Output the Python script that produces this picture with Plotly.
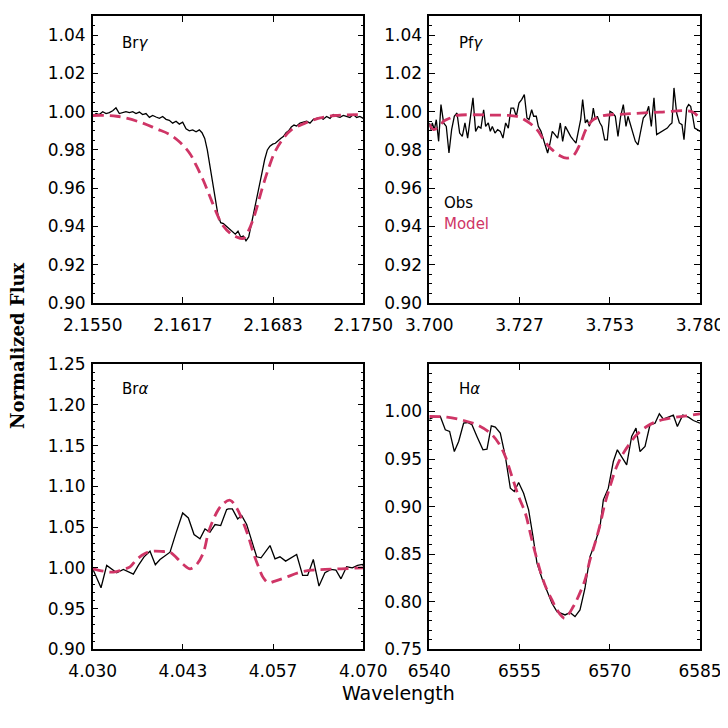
import plotly.graph_objects as go

# ---------------- DATA ----------------
# Br gamma
brg_obs_w = [2.15500, 2.15525, 2.15549, 2.15574, 2.15599, 2.15623, 2.15648, 2.15672, 2.15697, 2.15722,
             2.15746, 2.15771, 2.15796, 2.15820, 2.15845, 2.15869, 2.15894, 2.15919, 2.15943, 2.15968,
             2.15993, 2.16017, 2.16042, 2.16066, 2.16091, 2.16116, 2.16140, 2.16165, 2.16190, 2.16214,
             2.16239, 2.16264, 2.16288, 2.16308, 2.16328, 2.16347, 2.16367, 2.16387, 2.16406, 2.16426,
             2.16446, 2.16466, 2.16490, 2.16515, 2.16534, 2.16554, 2.16574, 2.16594, 2.16613, 2.16633,
             2.16653, 2.16672, 2.16692, 2.16712, 2.16732, 2.16751, 2.16771, 2.16791, 2.16810, 2.16830,
             2.16850, 2.16869, 2.16889, 2.16909, 2.16929, 2.16948, 2.16968, 2.16988, 2.17007, 2.17032,
             2.17057, 2.17081, 2.17106, 2.17131, 2.17155, 2.17180, 2.17204, 2.17229, 2.17254, 2.17278,
             2.17303, 2.17328, 2.17352, 2.17377, 2.17401, 2.17426, 2.17451, 2.17475, 2.17500]
brg_obs_f = [0.9975, 0.9990, 0.9985, 1.0000, 0.9990, 0.9995, 1.0005, 1.0020, 0.9990, 0.9995,
             1.0000, 0.9995, 1.0000, 0.9990, 0.9998, 0.9985, 0.9990, 0.9970, 0.9980, 0.9972,
             0.9965, 0.9975, 0.9960, 0.9955, 0.9940, 0.9950, 0.9935, 0.9945, 0.9910, 0.9900,
             0.9905, 0.9895, 0.9905, 0.9890, 0.9860, 0.9800, 0.9710, 0.9620, 0.9530, 0.9460,
             0.9420, 0.9415, 0.9400, 0.9385, 0.9370, 0.9360, 0.9375, 0.9345, 0.9350, 0.9325,
             0.9345, 0.9410, 0.9460, 0.9540, 0.9610, 0.9680, 0.9750, 0.9800, 0.9820, 0.9830,
             0.9835, 0.9850, 0.9860, 0.9870, 0.9890, 0.9900, 0.9920, 0.9930, 0.9925, 0.9940,
             0.9945, 0.9950, 0.9940, 0.9960, 0.9965, 0.9970, 0.9960, 0.9975, 0.9965, 0.9985,
             0.9975, 0.9970, 0.9980, 0.9975, 0.9970, 0.9985, 0.9970, 0.9975, 0.9965]
brg_mod_w = [2.15500, 2.15677, 2.15850, 2.15973, 2.16071, 2.16145, 2.16219, 2.16268, 2.16318, 2.16367,
             2.16416, 2.16453, 2.16515, 2.16564, 2.16613, 2.16650, 2.16699, 2.16749, 2.16798, 2.16847,
             2.16909, 2.16970, 2.17069, 2.17167, 2.17291, 2.17500]
brg_mod_f = [0.9980, 0.9976, 0.9945, 0.9910, 0.9880, 0.9840, 0.9780, 0.9715, 0.9640, 0.9555,
             0.9470, 0.9415, 0.9365, 0.9345, 0.9338, 0.9375, 0.9465, 0.9590, 0.9700, 0.9790,
             0.9860, 0.9906, 0.9940, 0.9965, 0.9980, 0.9985]

# Pf gamma
pfg_obs_w = [3.70000, 3.70049, 3.70089, 3.70148, 3.70207, 3.70276, 3.70345, 3.70424, 3.70502, 3.70581,
             3.70660, 3.70739, 3.70818, 3.70897, 3.70975, 3.71054, 3.71133, 3.71212, 3.71291, 3.71369,
             3.71448, 3.71527, 3.71606, 3.71665, 3.71744, 3.71803, 3.71862, 3.71941, 3.72020, 3.72098,
             3.72177, 3.72256, 3.72335, 3.72414, 3.72493, 3.72571, 3.72650, 3.72729, 3.72808, 3.72887,
             3.72946, 3.73025, 3.73084, 3.73162, 3.73222, 3.73301, 3.73379, 3.73438, 3.73497, 3.73557,
             3.73635, 3.73714, 3.73793, 3.73872, 3.73941, 3.74020, 3.74098, 3.74177, 3.74256, 3.74335,
             3.74414, 3.74473, 3.74532, 3.74611, 3.74670, 3.74729, 3.74808, 3.74847, 3.74906, 3.74965,
             3.75044, 3.75103, 3.75182, 3.75261, 3.75340, 3.75418, 3.75497, 3.75576, 3.75655, 3.75734,
             3.75813, 3.75872, 3.75931, 3.76010, 3.76089, 3.76167, 3.76246, 3.76325, 3.76404, 3.76483,
             3.76561, 3.76640, 3.76719, 3.76798, 3.76877, 3.76956, 3.77034, 3.77113, 3.77172, 3.77231,
             3.77310, 3.77389, 3.77468, 3.77527, 3.77606, 3.77665, 3.77724, 3.77783, 3.77842, 3.77921,
             3.78000]
pfg_obs_f = [0.9941, 0.9906, 0.9941, 0.9906, 0.9958, 0.9845, 1.0037, 0.9941, 0.9923, 0.9784,
             0.9906, 0.9976, 0.9993, 0.9888, 0.9871, 0.9941, 0.9862, 0.9976, 1.0072, 0.9897,
             0.9923, 0.9914, 1.0010, 0.9923, 0.9941, 0.9897, 0.9923, 0.9888, 0.9906, 0.9897,
             0.9862, 0.9941, 0.9914, 1.0019, 1.0019, 0.9976, 1.0045, 1.0063, 1.0089, 0.9967,
             0.9958, 1.0010, 0.9976, 0.9976, 0.9923, 0.9897, 0.9853, 0.9818, 0.9784, 0.9827,
             0.9897, 0.9880, 0.9862, 0.9941, 0.9845, 0.9923, 0.9897, 0.9871, 0.9853, 0.9836,
             0.9906, 0.9958, 1.0063, 0.9941, 0.9958, 0.9923, 0.9967, 1.0019, 0.9958, 0.9976,
             0.9941, 0.9923, 0.9853, 0.9853, 1.0002, 0.9993, 0.9976, 0.9871, 0.9976, 1.0037,
             0.9923, 0.9976, 0.9941, 0.9888, 0.9845, 0.9827, 0.9906, 0.9967, 0.9984, 1.0028,
             0.9923, 1.0072, 0.9880, 0.9888, 0.9897, 0.9906, 0.9914, 0.9932, 0.9941, 1.0124,
             0.9993, 0.9941, 0.9932, 0.9853, 1.0019, 1.0037, 1.0028, 0.9976, 0.9914, 0.9906,
             0.9897]
pfg_mod_w = [3.70000, 3.70128, 3.70325, 3.70424, 3.70621, 3.70818, 3.71803, 3.72591, 3.72887, 3.73182,
             3.73379, 3.73576, 3.73862, 3.74059, 3.74256, 3.74453, 3.74650, 3.74847, 3.75143, 3.75833,
             3.76818, 3.77783, 3.78000]
pfg_mod_f = [0.9935, 0.9906, 0.9930, 0.9950, 0.9967, 0.9980, 0.9982, 0.9975, 0.9950, 0.9906,
             0.9853, 0.9810, 0.9770, 0.9757, 0.9770, 0.9830, 0.9914, 0.9958, 0.9979, 0.9988,
             0.9998, 0.9998, 0.9958]

# Br alpha
bra_obs_w = [4.03000, 4.03049, 4.03123, 4.03207, 4.03281, 4.03355, 4.03453, 4.03542, 4.03601, 4.03675,
             4.03759, 4.03847, 4.03926, 4.03995, 4.04084, 4.04143, 4.04232, 4.04330, 4.04414, 4.04498,
             4.04586, 4.04660, 4.04734, 4.04808, 4.04892, 4.04980, 4.05005, 4.05064, 4.05143, 4.05202,
             4.05276, 4.05350, 4.05424, 4.05488, 4.05621, 4.05695, 4.05768, 4.05852, 4.05941, 4.06015,
             4.06103, 4.06177, 4.06261, 4.06345, 4.06433, 4.06522, 4.06596, 4.06670, 4.06754, 4.06837,
             4.06916, 4.06985, 4.07000]
bra_obs_f = [0.9988, 0.9898, 0.9755, 1.0029, 0.9980, 0.9939, 0.9980, 0.9947, 0.9922, 1.0029,
             1.0135, 1.0204, 1.0037, 1.0102, 1.0163, 1.0192, 1.0429, 1.0673, 1.0612, 1.0408,
             1.0355, 1.0478, 1.0437, 1.0531, 1.0518, 1.0714, 1.0722, 1.0722, 1.0600, 1.0641,
             1.0531, 1.0347, 1.0135, 1.0122, 1.0273, 1.0110, 1.0135, 1.0082, 1.0122, 1.0163,
             0.9906, 0.9906, 1.0102, 0.9776, 0.9939, 0.9980, 0.9971, 0.9865, 1.0012, 1.0000,
             1.0029, 1.0041, 1.0029]
bra_mod_w = [4.03000, 4.03158, 4.03305, 4.03453, 4.03552, 4.03650, 4.03773, 4.03897, 4.04044, 4.04143,
             4.04241, 4.04340, 4.04438, 4.04537, 4.04635, 4.04709, 4.04783, 4.04857, 4.04931, 4.05029,
             4.05128, 4.05227, 4.05300, 4.05374, 4.05448, 4.05522, 4.05596, 4.05695, 4.05842, 4.06039,
             4.06236, 4.06433, 4.06680, 4.07000]
bra_mod_f = [0.9988, 0.9959, 0.9947, 0.9980, 1.0012, 1.0102, 1.0176, 1.0204, 1.0200, 1.0192,
             1.0122, 1.0041, 0.9988, 1.0041, 1.0184, 1.0429, 1.0592, 1.0714, 1.0788, 1.0829,
             1.0735, 1.0551, 1.0388, 1.0184, 1.0020, 0.9878, 0.9816, 0.9837, 0.9878, 0.9939,
             0.9971, 0.9980, 0.9988, 1.0000]

# H alpha
ha_obs_w = [6540.00, 6540.72, 6541.83, 6542.66, 6543.38, 6544.16, 6544.88, 6545.71, 6546.37, 6547.09,
            6547.92, 6548.92, 6549.59, 6550.31, 6550.97, 6551.80, 6552.64, 6553.47, 6554.13, 6554.85,
            6555.68, 6556.51, 6557.24, 6557.90, 6558.73, 6559.56, 6560.39, 6561.23, 6562.06, 6562.56,
            6563.39, 6564.22, 6565.05, 6565.88, 6566.71, 6567.55, 6568.38, 6568.93, 6569.76, 6570.59,
            6571.26, 6572.14, 6572.81, 6573.64, 6574.36, 6575.03, 6575.86, 6576.69, 6577.52, 6578.24,
            6578.91, 6579.74, 6580.57, 6581.24, 6582.13, 6583.07, 6583.90, 6585.00]
ha_obs_f = [0.9919, 0.9940, 0.9947, 0.9807, 0.9790, 0.9579, 0.9684, 0.9877, 0.9884, 0.9860,
            0.9737, 0.9597, 0.9604, 0.9849, 0.9835, 0.9772, 0.9527, 0.9194, 0.9158, 0.9253,
            0.9141, 0.8966, 0.8685, 0.8405, 0.8247, 0.8124, 0.7984, 0.7896, 0.7872, 0.7861,
            0.7886, 0.7844, 0.7914, 0.8142, 0.8475, 0.8615, 0.8790, 0.9071, 0.9194, 0.9474,
            0.9597, 0.9509, 0.9439, 0.9737, 0.9825, 0.9579, 0.9632, 0.9860, 0.9877, 0.9975,
            0.9919, 0.9940, 0.9961, 0.9842, 0.9961, 0.9940, 0.9905, 0.9877]
ha_mod_w = [6540.00, 6542.94, 6545.71, 6547.92, 6550.14, 6551.53, 6552.64, 6553.74, 6554.85, 6555.96,
            6556.79, 6557.62, 6558.73, 6559.56, 6560.39, 6561.23, 6562.06, 6562.56, 6563.94, 6564.77,
            6565.88, 6566.71, 6567.55, 6568.38, 6569.21, 6570.04, 6571.15, 6572.26, 6573.37, 6574.47,
            6576.14, 6577.80, 6580.02, 6582.79, 6585.00]
ha_mod_f = [0.9947, 0.9940, 0.9905, 0.9860, 0.9772, 0.9667, 0.9527, 0.9316, 0.9106, 0.8931,
            0.8720, 0.8510, 0.8264, 0.8124, 0.8019, 0.7914, 0.7844, 0.7826, 0.7949, 0.8054,
            0.8229, 0.8440, 0.8615, 0.8808, 0.9036, 0.9211, 0.9421, 0.9562, 0.9667, 0.9755,
            0.9842, 0.9895, 0.9930, 0.9954, 0.9975]

# tick labels
brg_ticks = [2.1550, 2.161667, 2.168333, 2.1750]
brg_ticktext = ["2.1550", "2.1617", "2.1683", "2.1750"]
pfg_ticks = [3.700, 3.726667, 3.753333, 3.780]
pfg_ticktext = ["3.700", "3.727", "3.753", "3.780"]
bra_ticks = [4.030, 4.043333, 4.056667, 4.070]
bra_ticktext = ["4.030", "4.043", "4.057", "4.070"]
ha_ticks = [6540, 6555, 6570, 6585]
ha_ticktext = ["6540", "6555", "6570", "6585"]

line_names = ["Br<i>γ</i>", "Pf<i>γ</i>", "Br<i>α</i>", "H<i>α</i>"]

# ---------------- FIGURE ----------------
MODEL_COLOR = "#CF3566"
OFF = 8            # page body margin of the html page
W = H = 720        # figure size; the figure occupies page pixels 8..728

fig = go.Figure()
panels = [
    (brg_obs_w, brg_obs_f, brg_mod_w, brg_mod_f, "x", "y"),
    (pfg_obs_w, pfg_obs_f, pfg_mod_w, pfg_mod_f, "x2", "y2"),
    (bra_obs_w, bra_obs_f, bra_mod_w, bra_mod_f, "x3", "y3"),
    (ha_obs_w, ha_obs_f, ha_mod_w, ha_mod_f, "x4", "y4"),
]
for ow, of, mw, mf, xa, ya in panels:
    fig.add_trace(go.Scatter(x=ow, y=of, mode="lines", xaxis=xa, yaxis=ya,
                             line=dict(color="black", width=1.3), showlegend=False))
    fig.add_trace(go.Scatter(x=mw, y=mf, mode="lines", xaxis=xa, yaxis=ya,
                             line=dict(color=MODEL_COLOR, width=2.8, dash="11px,6px", shape="spline"),
                             showlegend=False))

def px(v):
    return (v - OFF) / W

def py(v):
    return 1 - (v - OFF) / H

xl, xr = 92.7, 363.3
xl2, xr2 = 429.3, 700.0
yt, yb = 16.0, 303.0
yt2, yb2 = 364.0, 649.3

TICKFONT = dict(family="DejaVu Sans", size=17, color="black")

def xaxis(dom, anchor, rng, tv, tt):
    return dict(domain=dom, anchor=anchor, range=rng, tickmode="array", tickvals=tv, ticktext=tt,
                showline=True, linecolor="black", linewidth=1.5, mirror="allticks",
                ticks="inside", ticklen=6, tickwidth=1.2, tickcolor="black", automargin=False,
                showgrid=False, zeroline=False, tickfont=TICKFONT, ticklabelstandoff=6)

def yaxis(dom, anchor, rng, t0, dt, mdt):
    return dict(domain=dom, anchor=anchor, range=rng, tickmode="linear", tick0=t0, dtick=dt,
                tickformat=".2f", automargin=False,
                showline=True, linecolor="black", linewidth=1.5, mirror="allticks",
                ticks="inside", ticklen=6, tickwidth=1.2, tickcolor="black",
                minor=dict(ticks="inside", ticklen=3, tickwidth=1, tickcolor="black", dtick=mdt, tick0=t0),
                showgrid=False, zeroline=False, tickfont=TICKFONT, ticklabelstandoff=2)

fig.update_layout(
    template="none",
    width=W, height=H, margin=dict(l=0, r=0, t=0, b=0, autoexpand=False),
    paper_bgcolor="white", plot_bgcolor="white",
    xaxis=xaxis([px(xl), px(xr)], "y", [2.1550, 2.1750], brg_ticks, brg_ticktext),
    yaxis=yaxis([py(yb), py(yt)], "x", [0.90, 1.05], 0.90, 0.02, 0.005),
    xaxis2=xaxis([px(xl2), px(xr2)], "y2", [3.700, 3.780], pfg_ticks, pfg_ticktext),
    yaxis2=yaxis([py(yb), py(yt)], "x2", [0.90, 1.05], 0.90, 0.02, 0.005),
    xaxis3=xaxis([px(xl), px(xr)], "y3", [4.030, 4.070], bra_ticks, bra_ticktext),
    yaxis3=yaxis([py(yb2), py(yt2)], "x3", [0.90, 1.2501], 0.90, 0.05, 0.01),
    xaxis4=xaxis([px(xl2), px(xr2)], "y4", [6540, 6585], ha_ticks, ha_ticktext),
    yaxis4=yaxis([py(yb2), py(yt2)], "x4", [0.75, 1.0499], 0.75, 0.05, 0.01),
)

ann = []
label_pos = [(120, 43), (457, 43), (120, 389), (457, 389)]
for name, (lx, ly) in zip(line_names, label_pos):
    ann.append(dict(text=name, x=px(lx), y=py(ly), xref="paper", yref="paper",
                    xanchor="left", yanchor="middle", showarrow=False,
                    font=dict(family="DejaVu Sans", size=15, color="black")))
ann.append(dict(text="Obs", x=px(442), y=py(203), xref="paper", yref="paper",
                xanchor="left", yanchor="middle", showarrow=False,
                font=dict(family="DejaVu Sans", size=15, color="black")))
ann.append(dict(text="Model", x=px(442), y=py(224), xref="paper", yref="paper",
                xanchor="left", yanchor="middle", showarrow=False,
                font=dict(family="DejaVu Sans", size=15, color=MODEL_COLOR)))
ann.append(dict(text="<b>Normalized Flux</b>", x=px(17), y=py(346), xref="paper", yref="paper",
                xanchor="center", yanchor="middle", textangle=-90, showarrow=False,
                font=dict(family="DejaVu Serif", size=18, color="black")))
ann.append(dict(text="Wavelength", x=px(399), y=py(693), xref="paper", yref="paper",
                xanchor="center", yanchor="middle", showarrow=False,
                font=dict(family="DejaVu Sans", size=19, color="black")))
fig.update_layout(annotations=ann)

fig.write_html("out.html")
